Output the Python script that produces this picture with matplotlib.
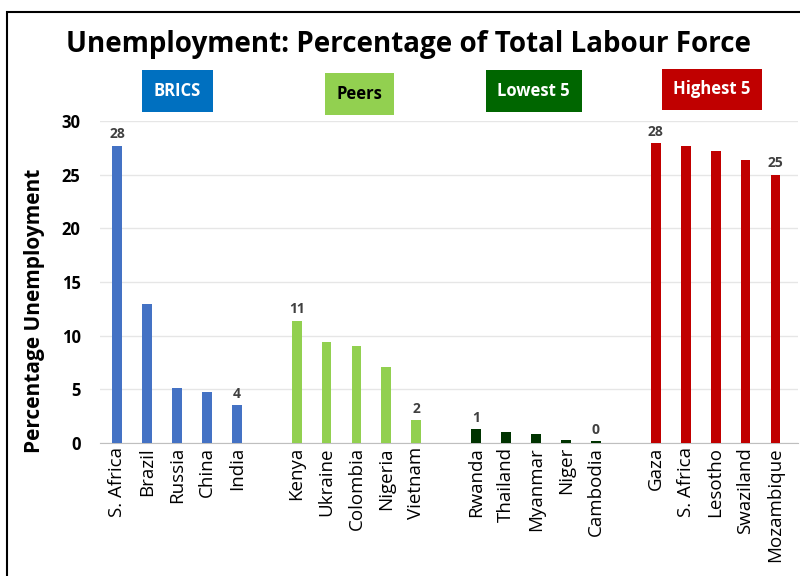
import matplotlib
matplotlib.use("Agg")
import matplotlib.pyplot as plt
from matplotlib.patches import Rectangle

plt.rcParams['font.family'] = ['Open Sans', 'DejaVu Sans']

# data
brics = ['S. Africa', 'Brazil', 'Russia', 'China', 'India']
brics_vals = [27.7, 12.9, 5.1, 4.7, 3.5]
peers = ['Kenya', 'Ukraine', 'Colombia', 'Nigeria', 'Vietnam']
peers_vals = [11.4, 9.4, 9.0, 7.1, 2.1]
lowest = ['Rwanda', 'Thailand', 'Myanmar', 'Niger', 'Cambodia']
lowest_vals = [1.3, 1.0, 0.8, 0.3, 0.2]
highest = ['Gaza', 'S. Africa', 'Lesotho', 'Swaziland', 'Mozambique']
highest_vals = [27.9, 27.7, 27.2, 26.4, 25.0]

groups = [
    ('BRICS', brics, brics_vals, '#4472C4', '#0070C0', 'white'),
    ('Peers', peers, peers_vals, '#92D050', '#92D050', 'black'),
    ('Lowest 5', lowest, lowest_vals, '#003300', '#006600', 'white'),
    ('Highest 5', highest, highest_vals, '#C00000', '#C00000', 'white'),
]
box_x = [0.222, 0.449, 0.667, 0.89]
box_y = [0.842, 0.837, 0.842, 0.845]

fig = plt.figure(figsize=(8, 5.76), dpi=100)
ax = fig.add_axes([0.125, 0.231, 0.872, 0.559])

ticks, labels = [], []
pos = 0
for name, cats, vals, col, boxcol, txtcol in groups:
    xs = list(range(pos, pos + len(cats)))
    ax.bar(xs, vals, width=0.33, color=col, zorder=3)
    for i in (0, len(vals) - 1):
        ax.text(xs[i], vals[i] + 0.4, f'{vals[i]:.0f}', ha='center', va='bottom',
                fontsize=10, fontweight='bold', color='#404040')
    ticks += xs
    labels += cats
    pos += len(cats) + 1

ax.set_xticks(ticks)
ax.set_xticklabels(labels, rotation=90, fontsize=13.5)
ax.set_xlim(-0.57, 22.74)
ax.set_ylim(0, 30)
ax.set_yticks(range(0, 31, 5))
ax.tick_params(axis='y', labelsize=12, length=0, pad=14)
ax.tick_params(axis='x', length=0, pad=3)
for lbl in ax.get_yticklabels():
    lbl.set_fontweight('bold')
ax.grid(axis='y', color='#E6E6E6', linewidth=1, zorder=0)
for s in ('left', 'right', 'top'):
    ax.spines[s].set_visible(False)
ax.spines['bottom'].set_color('#BFBFBF')
ax.set_ylabel('Percentage Unemployment', fontsize=15, fontweight='bold')
ax.yaxis.set_label_coords(-0.079, 0.41)

fig.text(0.51, 0.922, 'Unemployment: Percentage of Total Labour Force',
         ha='center', va='center', fontsize=20, fontweight='bold')
for (name, cats, vals, col, boxcol, txtcol), bx, by in zip(groups, box_x, box_y):
    fig.text(bx, by, name, ha='center', va='center', fontsize=12,
             fontweight='bold', color=txtcol,
             bbox=dict(boxstyle='square,pad=0.7', facecolor=boxcol, edgecolor='none'))

fig.patches.append(Rectangle((0.009, -0.05), 1.2, 1.029, transform=fig.transFigure,
                             fill=False, edgecolor='black', linewidth=1.5))

fig.savefig('out.png', dpi=100)
